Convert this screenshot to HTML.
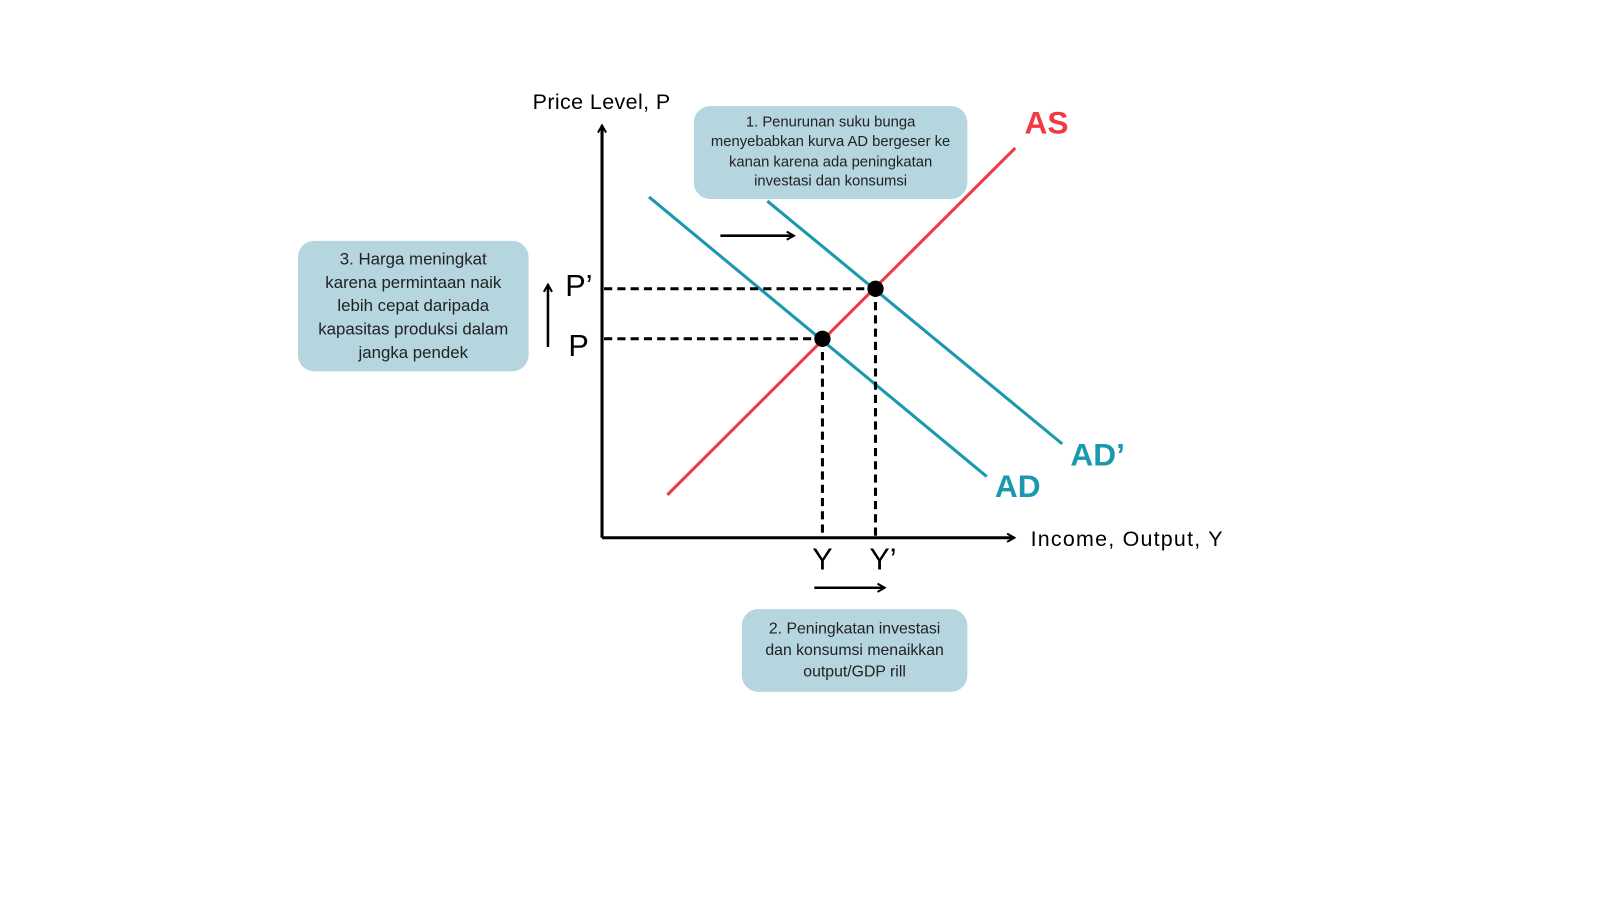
<!DOCTYPE html>
<html><head><meta charset="utf-8"><style>
html,body{margin:0;padding:0;background:#fff;}
body{width:1600px;height:900px;position:relative;overflow:hidden;font-family:"Liberation Sans",sans-serif;}
#w{position:absolute;left:0;top:0;width:1568px;height:882px;transform:scale(1.0204);transform-origin:0 0;}
.box{position:absolute;background:#b5d5df;border-radius:16px;color:#222;text-align:center;display:flex;align-items:center;justify-content:center;box-sizing:border-box;}
.t{position:absolute;white-space:nowrap;line-height:1;}
</style></head><body><div id="w">
<svg width="1568" height="882" style="position:absolute;left:0;top:0">
<defs>
<marker id="ah" markerWidth="10" markerHeight="10" refX="8" refY="5" orient="auto" markerUnits="userSpaceOnUse">
<path d="M1,1 L8,5 L1,9" fill="none" stroke="#000" stroke-width="2"/>
</marker>
</defs>
<line x1="590" y1="527" x2="590" y2="123" stroke="#000" stroke-width="3" marker-end="url(#ah)"/>
<line x1="590" y1="527" x2="994" y2="527" stroke="#000" stroke-width="3" marker-end="url(#ah)"/>
<line x1="654" y1="485" x2="995" y2="145" stroke="#f03a3f" stroke-width="3"/>
<line x1="636" y1="193" x2="967" y2="467" stroke="#1a98ae" stroke-width="3"/>
<line x1="752" y1="197" x2="1041" y2="435" stroke="#1a98ae" stroke-width="3"/>
<g stroke="#000" stroke-width="3" stroke-dasharray="8,5">
<line x1="592" y1="283" x2="858" y2="283"/>
<line x1="592" y1="332" x2="806" y2="332"/>
<line x1="806" y1="332" x2="806" y2="526"/>
<line x1="858" y1="283" x2="858" y2="526"/>
</g>
<circle cx="806" cy="332" r="8" fill="#000"/>
<circle cx="858" cy="283" r="8" fill="#000"/>
<line x1="706" y1="231" x2="778" y2="231" stroke="#000" stroke-width="2.5" marker-end="url(#ah)"/>
<line x1="798" y1="576" x2="867" y2="576" stroke="#000" stroke-width="2.5" marker-end="url(#ah)"/>
<line x1="537" y1="340" x2="537" y2="279" stroke="#000" stroke-width="2.5" marker-end="url(#ah)"/>
</svg>
<div class="t" style="left:522px;top:90px;font-size:21px;letter-spacing:0.4px;">Price Level, P</div>
<div class="t" style="left:1010px;top:518px;font-size:21px;letter-spacing:1.2px;">Income, Output, Y</div>
<div class="t" style="left:1004px;top:105px;font-size:31px;font-weight:bold;color:#f03a3f;">AS</div>
<div class="t" style="left:1049px;top:430px;font-size:31px;font-weight:bold;color:#1a98ae;">AD’</div>
<div class="t" style="left:975px;top:461px;font-size:31px;font-weight:bold;color:#1a98ae;">AD</div>
<div class="t" style="left:554px;top:266px;font-size:30px;">P’</div>
<div class="t" style="left:557px;top:325px;font-size:30px;">P</div>
<div class="t" style="left:796px;top:534px;font-size:30px;">Y</div>
<div class="t" style="left:852px;top:534px;font-size:30px;">Y’</div>
<div class="box" style="left:680px;top:104px;width:268px;height:91px;font-size:14.5px;line-height:19.5px;">1. Penurunan suku bunga<br>menyebabkan kurva AD bergeser ke<br>kanan karena ada peningkatan<br>investasi dan konsumsi</div>
<div class="box" style="left:292px;top:236px;width:226px;height:128px;font-size:16.5px;line-height:23px;">3. Harga meningkat<br>karena permintaan naik<br>lebih cepat daripada<br>kapasitas produksi dalam<br>jangka pendek</div>
<div class="box" style="left:727px;top:597px;width:221px;height:81px;font-size:15.5px;line-height:21px;">2. Peningkatan investasi<br>dan konsumsi menaikkan<br>output/GDP rill</div>
</div></body></html>
